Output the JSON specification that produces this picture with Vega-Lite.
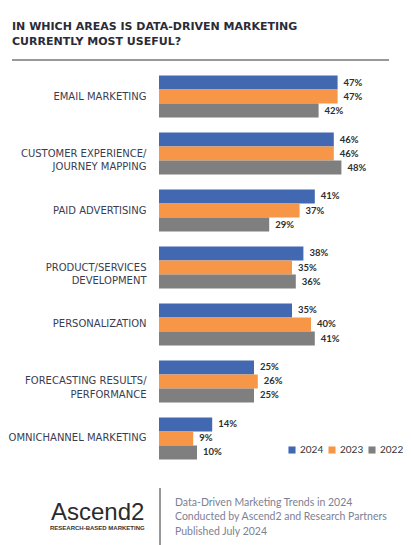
{
  "$schema": "https://vega.github.io/schema/vega-lite/v6.json",
  "width": 228,
  "height": 399,
  "autosize": {"type": "none"},
  "padding": {"left": 159, "top": 68, "right": 24, "bottom": 78},
  "background": "white",
  "config": {
    "view": {"stroke": null},
    "text": {"font": "Lato"}
  },
  "data": {
    "values": [
      {"area": "EMAIL MARKETING", "year": "2024", "share": 0.47},
      {"area": "EMAIL MARKETING", "year": "2023", "share": 0.47},
      {"area": "EMAIL MARKETING", "year": "2022", "share": 0.42},
      {"area": "CUSTOMER EXPERIENCE/JOURNEY MAPPING", "year": "2024", "share": 0.46},
      {"area": "CUSTOMER EXPERIENCE/JOURNEY MAPPING", "year": "2023", "share": 0.46},
      {"area": "CUSTOMER EXPERIENCE/JOURNEY MAPPING", "year": "2022", "share": 0.48},
      {"area": "PAID ADVERTISING", "year": "2024", "share": 0.41},
      {"area": "PAID ADVERTISING", "year": "2023", "share": 0.37},
      {"area": "PAID ADVERTISING", "year": "2022", "share": 0.29},
      {"area": "PRODUCT/SERVICES DEVELOPMENT", "year": "2024", "share": 0.38},
      {"area": "PRODUCT/SERVICES DEVELOPMENT", "year": "2023", "share": 0.35},
      {"area": "PRODUCT/SERVICES DEVELOPMENT", "year": "2022", "share": 0.36},
      {"area": "PERSONALIZATION", "year": "2024", "share": 0.35},
      {"area": "PERSONALIZATION", "year": "2023", "share": 0.40},
      {"area": "PERSONALIZATION", "year": "2022", "share": 0.41},
      {"area": "FORECASTING RESULTS/PERFORMANCE", "year": "2024", "share": 0.25},
      {"area": "FORECASTING RESULTS/PERFORMANCE", "year": "2023", "share": 0.26},
      {"area": "FORECASTING RESULTS/PERFORMANCE", "year": "2022", "share": 0.25},
      {"area": "OMNICHANNEL MARKETING", "year": "2024", "share": 0.14},
      {"area": "OMNICHANNEL MARKETING", "year": "2023", "share": 0.09},
      {"area": "OMNICHANNEL MARKETING", "year": "2022", "share": 0.10}
    ]
  },
  "layer": [
    {
      "mark": {"type": "bar"},
      "encoding": {
        "y": {
          "field": "area", "type": "nominal", "sort": null,
          "scale": {"paddingInner": 0.263, "paddingOuter": 0.1316},
          "axis": {
            "title": null, "domain": false, "ticks": false,
            "labelPadding": 13, "labelFont": "DejaVu Sans", "labelFontSize": 10,
            "labelColor": "#3a3d4f", "labelLineHeight": 13.4, "labelLimit": 200,
            "labelExpr": "datum.label == 'CUSTOMER EXPERIENCE/JOURNEY MAPPING' ? ['CUSTOMER EXPERIENCE/', 'JOURNEY MAPPING'] : datum.label == 'PRODUCT/SERVICES DEVELOPMENT' ? ['PRODUCT/SERVICES', 'DEVELOPMENT'] : datum.label == 'FORECASTING RESULTS/PERFORMANCE' ? ['FORECASTING RESULTS/', 'PERFORMANCE'] : datum.label"
          }
        },
        "yOffset": {"field": "year", "type": "nominal", "sort": ["2024", "2023", "2022"], "scale": {"paddingInner": 0}},
        "x": {"field": "share", "type": "quantitative", "scale": {"domain": [0, 0.56]}, "axis": null},
        "color": {
          "field": "year", "type": "nominal",
          "scale": {"domain": ["2024", "2023", "2022"], "range": ["#4168b0", "#f79646", "#7f7f7f"]},
          "legend": {
            "orient": "none", "direction": "horizontal", "legendX": 128, "legendY": 377,
            "title": null, "symbolType": "square", "symbolSize": 50, "symbolStrokeWidth": 0,
            "labelFont": "Lato", "labelFontSize": 10, "labelColor": "#333333",
            "labelOffset": 3, "columnPadding": 3, "padding": 0
          }
        }
      }
    },
    {
      "mark": {"type": "text", "align": "left", "baseline": "middle", "dx": 6, "fontWeight": "bold", "fontSize": 9.5, "color": "#2e2e2e"},
      "encoding": {
        "y": {"field": "area", "type": "nominal", "sort": null},
        "yOffset": {"field": "year", "type": "nominal", "sort": ["2024", "2023", "2022"]},
        "x": {"field": "share", "type": "quantitative"},
        "text": {"field": "share", "type": "quantitative", "format": ".0%"}
      }
    },
    {
      "data": {"values": [{}]},
      "mark": {"type": "text", "align": "left", "baseline": "alphabetic", "font": "DejaVu Sans", "fontSize": 11, "fontWeight": "bold", "color": "#2b2b38", "lineHeight": 15,
        "text": ["IN WHICH AREAS IS DATA-DRIVEN MARKETING", "CURRENTLY MOST USEFUL?"]},
      "encoding": {"x": {"value": -147}, "y": {"value": -38}}
    },
    {
      "data": {"values": [{}]},
      "mark": {"type": "rule", "color": "#333333", "strokeWidth": 1},
      "encoding": {"x": {"value": -147}, "x2": {"value": 230}, "y": {"value": -8}}
    },
    {
      "data": {"values": [{}]},
      "mark": {"type": "rule", "color": "#333333", "strokeWidth": 1},
      "encoding": {"x": {"value": 1}, "y": {"value": 420}, "y2": {"value": 477}}
    },
    {
      "data": {"values": [{}]},
      "mark": {"type": "text", "align": "left", "baseline": "alphabetic", "font": "Lato", "fontSize": 10.5, "color": "#7d8193", "lineHeight": 14.7,
        "text": ["Data-Driven Marketing Trends in 2024", "Conducted by Ascend2 and Research Partners", "Published July 2024"]},
      "encoding": {"x": {"value": 16}, "y": {"value": 437.5}}
    },
    {
      "data": {"values": [{}]},
      "mark": {"type": "text", "align": "left", "baseline": "alphabetic", "font": "Liberation Sans", "fontSize": 24, "color": "#2b2b2b", "text": "Ascend2"},
      "encoding": {"x": {"value": -108}, "y": {"value": 452}}
    },
    {
      "data": {"values": [{}]},
      "mark": {"type": "text", "align": "left", "baseline": "alphabetic", "font": "Liberation Sans", "fontSize": 6, "fontWeight": "bold", "color": "#333333", "text": "RESEARCH-BASED MARKETING"},
      "encoding": {"x": {"value": -109}, "y": {"value": 462}}
    }
  ]
}
